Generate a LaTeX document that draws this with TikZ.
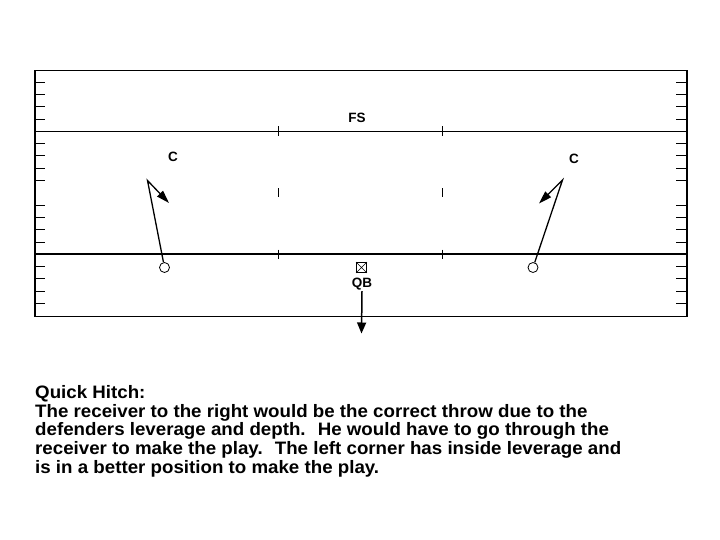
\documentclass[tikz,border=0pt]{standalone}
\usepackage{fontspec}
\setmainfont{Liberation Sans}
\usetikzlibrary{arrows.meta}
\newcommand{\wline}[1]{\scalebox{1.04}[1]{#1}}
\begin{document}
\begin{tikzpicture}[x=1pt,y=-1pt,
  field/.style={line width=1.3pt},
  yline/.style={line width=1pt},
  los/.style={line width=2pt},
  tick/.style={line width=0.9pt},
  lbl/.style={font=\fontsize{13.5}{15}\selectfont\bfseries, inner sep=0pt},
  rcv/.style={circle, draw, line width=0.8pt, minimum size=10pt, inner sep=0pt, fill=white},
  qbbox/.style={draw, line width=0.8pt, minimum size=10pt, inner sep=0pt},
  route/.style={line width=1.3pt, -{Triangle[length=13pt,width=8pt]}},
  txt/.style={font=\fontsize{18}{19}\selectfont\bfseries, inner sep=0pt, anchor=base west}
]
\useasboundingbox (0,0) rectangle (720,540);
% field
\draw[field] (35,70.5) rectangle (687,316.5);
\draw[yline] (35,131.3) -- (687,131.3);
\draw[los] (35,254.3) -- (687,254.3);
% yard ticks on sidelines
\foreach \k in {-4,-3,-2,-1,1,2,3,4,6,7,8,9,11,12,13,14}{
  \draw[tick] (35,131.3+12.3*\k) -- (45,131.3+12.3*\k);
  \draw[tick] (676,131.3+12.3*\k) -- (687,131.3+12.3*\k);
}
% hash marks
\foreach \x in {278.3,442.7}{
  \draw[tick] (\x,126.5) -- (\x,136);
  \draw[tick] (\x,188.5) -- (\x,197);
  \draw[tick] (\x,249.5) -- (\x,259);
}
% labels
\node[lbl] (fs) at (357,117.5) {FS};
\node[lbl] (cl) at (173,157) {C};
\node[lbl] (cr) at (574,159) {C};
% receivers
\node[rcv] (wl) at (164.5,267.5) {};
\node[rcv] (wr) at (533,267.5) {};
\coordinate (bl) at (147.5,180.5);
\coordinate (tl) at (169,203);
\coordinate (br) at (562.5,180);
\coordinate (tr) at (539,203.5);
\draw[route] (wl) -- (bl) -- (tl);
\draw[route] (wr) -- (br) -- (tr);
% QB
\node[qbbox] (qb) at (361.5,267.5) {};
\draw[line width=0.6pt] (qb.north west) -- (qb.south east) (qb.north east) -- (qb.south west);
\node[lbl] (qbl) at (362,284) {QB};
\coordinate (qbt) at (361.5,333.5);
\draw[line width=1.5pt, -{Triangle[length=11pt,width=9pt]}] (qbl.south) ++(0,1) -- (qbt);
% text
\node[txt] (l1) at (35,398.5) {\wline{Quick Hitch:}};
\node[txt] (l2) at (35,417.2) {\wline{The receiver to the right would be the correct throw due to the}};
\node[txt] (l3) at (35,435.9) {\wline{defenders leverage and depth.~ He would have to go through the}};
\node[txt] (l4) at (35,454.6) {\wline{receiver to make the play.~ The left corner has inside leverage and}};
\node[txt] (l5) at (35,473.3) {\wline{is in a better position to make the play.}};
\end{tikzpicture}
\end{document}
